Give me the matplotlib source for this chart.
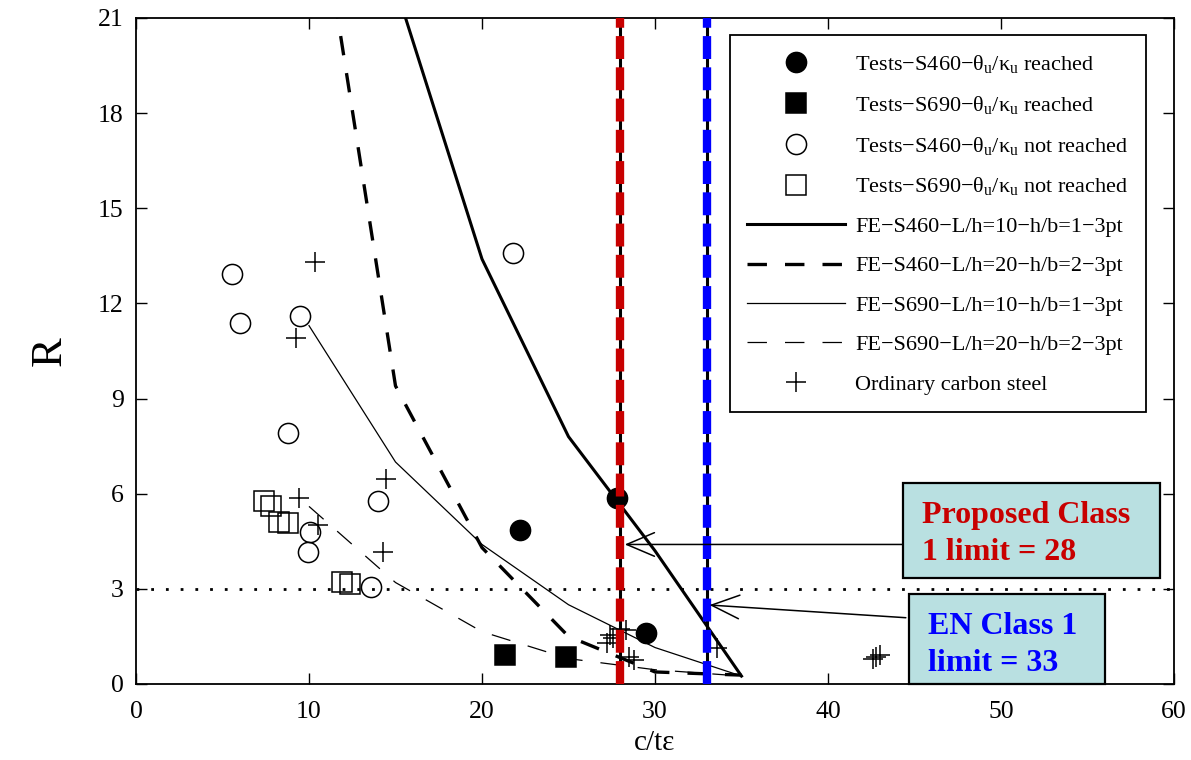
import matplotlib
matplotlib.use("Agg")
import matplotlib.pyplot as plt
from matplotlib.patches import Rectangle, FancyArrowPatch

plt.rcParams['font.family'] = ['Liberation Serif', 'DejaVu Serif']
plt.rcParams['mathtext.fontset'] = 'stix'
plt.rcParams['mathtext.default'] = 'regular'
plt.rcParams['lines.scale_dashes'] = False

# FE curves (c/t-epsilon vs rotation capacity R)
fe_x = [10, 15, 20, 25, 30, 35]
fe_s460_lh10_x = [15, 20, 25, 30, 35]
fe_s460_lh10_y = [22.0, 13.4, 7.8, 4.2, 0.25]
fe_s460_lh20_y = [26.8, 9.4, 4.3, 1.5, 0.38, 0.28]
fe_s690_lh10_y = [11.3, 7.0, 4.4, 2.5, 1.15, 0.25]
fe_s690_lh20_y = [5.6, 3.2, 1.65, 0.8, 0.45, 0.25]

# Test results
s460_reached_x = [22.2, 27.8, 29.5]
s460_reached_y = [4.85, 5.87, 1.62]
s690_reached_x = [21.35, 24.85]
s690_reached_y = [0.91, 0.85]
s460_not_x = [5.55, 6.0, 9.5, 8.8, 14.0, 10.05, 9.95, 13.6, 21.8]
s460_not_y = [12.93, 11.38, 11.6, 7.93, 5.77, 4.78, 4.15, 3.07, 13.6]
s690_not_x = [7.4, 7.8, 8.25, 8.8, 11.9, 12.35]
s690_not_y = [5.77, 5.6, 5.12, 5.07, 3.23, 3.15]
carbon_x = [10.35, 9.25, 14.45, 9.4, 10.5, 14.3, 27.2, 27.4, 27.6, 28.0, 28.3,
            28.5, 28.8, 33.6, 42.6, 42.8, 43.0]
carbon_y = [13.3, 10.9, 6.45, 5.86, 5.0, 4.17, 1.3, 1.55, 1.45, 1.75, 1.7,
            0.85, 0.75, 1.12, 0.78, 0.84, 0.9]

# Class limits and reference level
proposed_limit = 28
en_limit = 33
r_level = 3

fig = plt.figure(figsize=(11.91, 7.6), dpi=100)
ax = fig.add_axes([136 / 1191, 1 - 684 / 760, 1038 / 1191, 666 / 760])

ms = 14.5
mew = 1.1
ax.plot(s460_reached_x, s460_reached_y, 'o', ms=ms, mfc='black', mec='black',
        mew=mew, label=r'Tests$-$S460$-\theta_u/\kappa_u$ reached', zorder=4)
ax.plot(s690_reached_x, s690_reached_y, 's', ms=ms, mfc='black', mec='black',
        mew=mew, label=r'Tests$-$S690$-\theta_u/\kappa_u$ reached', zorder=4)
ax.plot(s460_not_x, s460_not_y, 'o', ms=ms, mfc='none', mec='black',
        mew=mew, label=r'Tests$-$S460$-\theta_u/\kappa_u$ not reached', zorder=4)
ax.plot(s690_not_x, s690_not_y, 's', ms=ms, mfc='none', mec='black',
        mew=mew, label=r'Tests$-$S690$-\theta_u/\kappa_u$ not reached', zorder=4)

ax.plot(fe_s460_lh10_x, fe_s460_lh10_y, '-', color='black', lw=2.2,
        label='FE\u2212S460\u2212L/h=10\u2212h/b=1\u22123pt', zorder=3)
ax.plot(fe_x, fe_s460_lh20_y, color='black', lw=2.4, dashes=(14, 13),
        label='FE\u2212S460\u2212L/h=20\u2212h/b=2\u22123pt', zorder=3)
ax.plot(fe_x, fe_s690_lh10_y, '-', color='black', lw=0.9,
        label='FE\u2212S690\u2212L/h=10\u2212h/b=1\u22123pt', zorder=3)
ax.plot(fe_x, fe_s690_lh20_y, color='black', lw=0.9, dashes=(14, 13),
        label='FE\u2212S690\u2212L/h=20\u2212h/b=2\u22123pt', zorder=3)
ax.plot(carbon_x, carbon_y, '+', ms=ms, mec='black', mew=1.1,
        label='Ordinary carbon steel', zorder=4)

# horizontal reference level
ax.axhline(r_level, color='black', lw=2.0, dashes=(2, 8.6), zorder=2)

# class limit lines: black core with coloured dashes
for xv, col in [(proposed_limit, '#c80000'), (en_limit, '#0000ff')]:
    ax.axvline(xv, color='black', lw=2.2, zorder=5)
    ax.axvline(xv, color=col, lw=6.0, dashes=(16.5, 6), zorder=6)

ax.set_xlim(0, 60)
ax.set_ylim(0, 21)
ax.set_xticks(range(0, 61, 10))
ax.set_yticks(range(0, 22, 3))
ax.tick_params(direction='in', length=8, width=1.0, top=True, right=True,
               labelsize=18.5)
ax.tick_params(axis='x', pad=12)
ax.tick_params(axis='y', pad=9)
for s in ax.spines.values():
    s.set_linewidth(1.3)

ax.set_xlabel('c/t\u03b5', fontsize=21, labelpad=5)
ax.set_ylabel('R', fontsize=32, labelpad=20, rotation=90)

leg = ax.legend(loc='upper right', bbox_to_anchor=((1146 - 136) / 1038, (684 - 35) / 666),
                borderaxespad=0, fontsize=16, numpoints=1, handlelength=4.4,
                handletextpad=0.45, labelspacing=0.85, borderpad=0.8,
                fancybox=False, edgecolor='black', framealpha=1)
leg.get_frame().set_linewidth(1.3)
leg.set_zorder(10)

# annotation boxes
box_fc = '#b9e0e1'
ax.add_patch(Rectangle(((903 - 136) / 1038, (684 - 578) / 666), (1160 - 903) / 1038,
                       (578 - 483) / 666, transform=ax.transAxes, facecolor=box_fc,
                       edgecolor='black', lw=1.6, zorder=7))
ax.add_patch(Rectangle(((909 - 136) / 1038, 0.0), (1105 - 909) / 1038,
                       (684 - 594) / 666, transform=ax.transAxes, facecolor=box_fc,
                       edgecolor='black', lw=1.6, zorder=7, clip_on=False))
box_text = [
    ('Proposed Class', '#c80000', 922, 523),
    ('1 limit = 28', '#c80000', 922, 560),
    ('EN Class 1', '#0000ff', 928, 634),
    ('limit = 33', '#0000ff', 928, 671),
]
for txt, col, px, py in box_text:
    ax.text((px - 136) / 1038, (684 - py) / 666, txt, transform=ax.transAxes,
            color=col, fontsize=23, fontweight='bold', ha='left', va='baseline',
            zorder=8)

# arrows pointing at the class limits
for start, end in [((44.35, 4.4), (proposed_limit + 0.25, 4.4)),
                   ((44.5, 2.09), (en_limit + 0.15, 2.49))]:
    ax.add_patch(FancyArrowPatch(start, end, arrowstyle='->,head_length=20,head_width=8.5',
                                 mutation_scale=1, color='black', lw=1.1,
                                 shrinkA=0, shrinkB=0, zorder=7))

fig.savefig('out.png', dpi=100)
